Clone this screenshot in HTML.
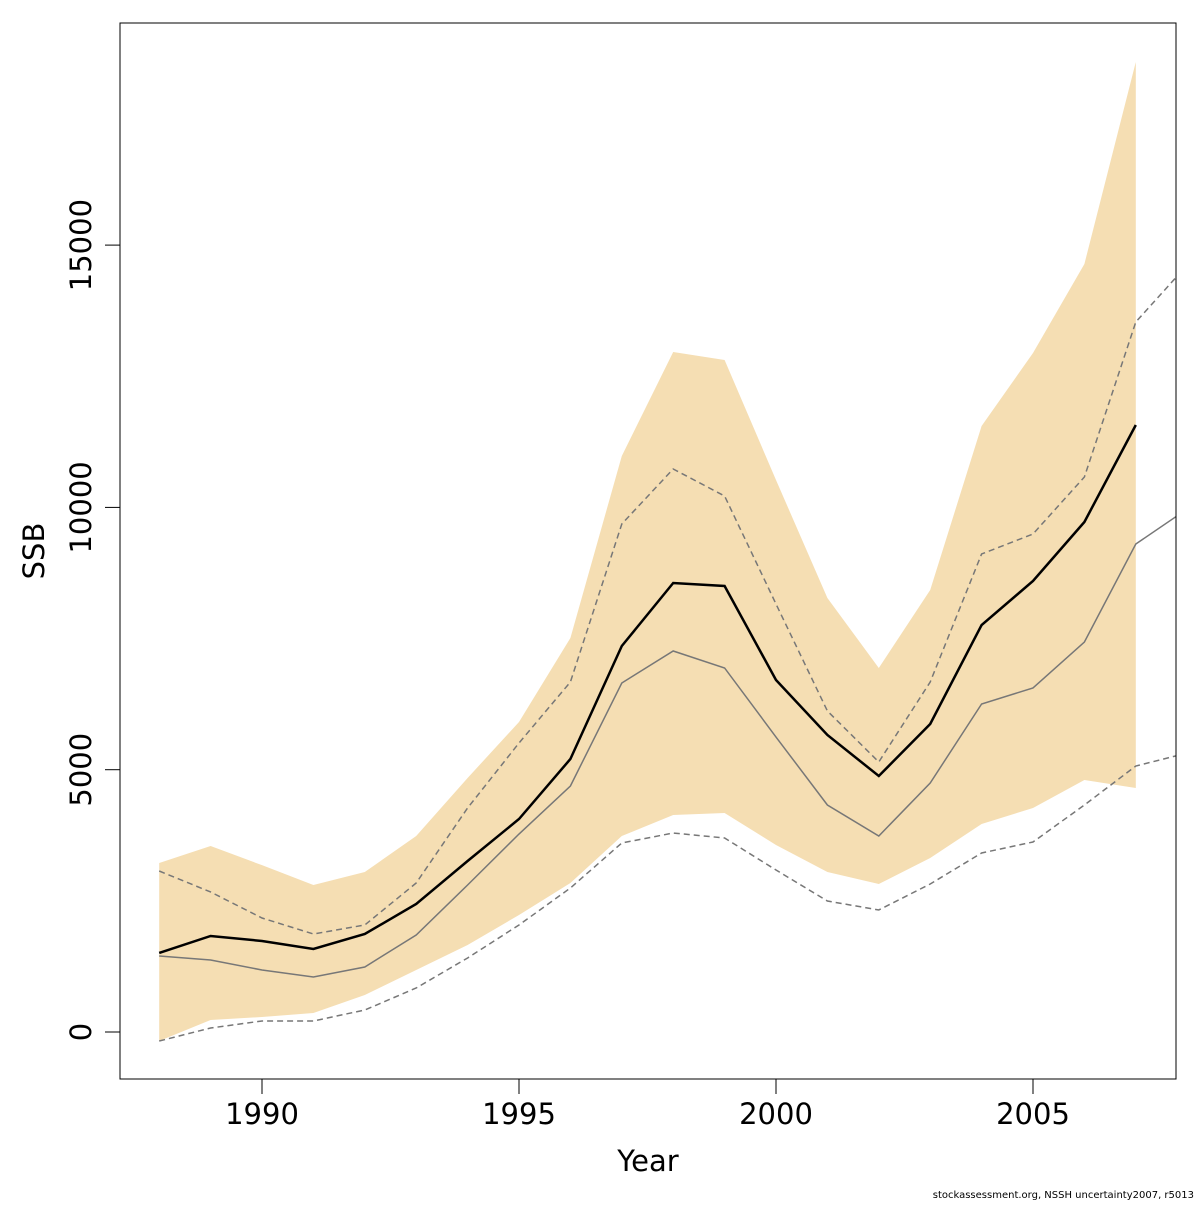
<!DOCTYPE html>
<html><head><meta charset="utf-8"><style>
html,body{margin:0;padding:0;background:#fff}
svg text{font-family:"DejaVu Sans","Liberation Sans",sans-serif}
</style></head><body>
<svg id="chart" width="1200" height="1200" xmlns="http://www.w3.org/2000/svg">
<defs><clipPath id="clip"><rect x="120" y="23" width="1056" height="1056"/></clipPath></defs>
<g id="band" clip-path="url(#clip)"></g>
<g id="lines" clip-path="url(#clip)"></g>
<rect x="120" y="23" width="1056" height="1056" fill="none" stroke="#000" stroke-width="1"/>
<g id="xaxis"></g>
<g id="yaxis"></g>
<text x="648" y="1171" font-size="29" text-anchor="middle">Year</text>
<text transform="translate(44,551) rotate(-90)" font-size="29" text-anchor="middle">SSB</text>
<text x="1194" y="1198" font-size="10" text-anchor="end">stockassessment.org, NSSH  uncertainty2007, r5013</text>
</svg>
<script>
const years = [1988,1989,1990,1991,1992,1993,1994,1995,1996,1997,1998,1999,2000,2001,2002,2003,2004,2005,2006,2007];
const bandUpper = [3221,3546,3180,2802,3050,3736,4842,5909,7510,10980,12962,12810,10522,8273,6939,8425,11551,12943,14640,18490];
const bandLower = [-172,229,286,362,705,1182,1658,2230,2840,3736,4136,4175,3565,3050,2821,3317,3965,4270,4804,4651];
const ssb = [1506,1830,1735,1582,1868,2440,3260,4060,5204,7358,8559,8502,6710,5662,4880,5871,7758,8597,9722,11571];
const years2 = [1988,1989,1990,1991,1992,1993,1994,1995,1996,1997,1998,1999,2000,2001,2002,2003,2004,2005,2006,2007,2008];
const median = [1449,1372,1182,1048,1239,1849,2802,3774,4689,6653,7263,6939,5623,4327,3736,4746,6252,6558,7434,9302,9970];
const upperQ = [3069,2669,2173,1868,2040,2840,4270,5509,6672,9684,10732,10217,8159,6119,5147,6672,9112,9493,10580,13534,14620];
const lowerQ = [-172,76,210,210,419,839,1411,2040,2745,3603,3793,3698,3088,2497,2326,2821,3412,3622,4327,5070,5318];
const xTicks = [1990,1995,2000,2005];
const yTicks = [0,5000,10000,15000];

const NS="http://www.w3.org/2000/svg";
const xs = y => 262 + (y-1990)*51.4;
const ys = v => 1032 - v*0.05246;
function mk(tag, attrs, parent){const e=document.createElementNS(NS,tag);for(const k in attrs)e.setAttribute(k,attrs[k]);parent.appendChild(e);return e;}

const band=document.getElementById('band');
let pts = years.map((y,i)=>xs(y)+','+ys(bandUpper[i]));
pts = pts.concat(years.map((y,i)=>xs(y)+','+ys(bandLower[i])).reverse());
const poly=mk('polygon',{points:pts.join(' '),fill:'#f5deb3'},band);



const lines=document.getElementById('lines');
function line(xsArr, vals, stroke, w, dash, name){
  const p=mk('polyline',{points:xsArr.map((y,i)=>xs(y)+','+ys(vals[i])).join(' '),fill:'none',stroke:stroke,'stroke-width':w},lines);
  if(dash)p.setAttribute('stroke-dasharray',dash);
  
  
}
line(years2, upperQ, '#777', 1.5, '6,4', 'upper-quantile-line');
line(years2, lowerQ, '#777', 1.5, '6,4', 'lower-quantile-line');
line(years2, median, '#777', 1.5, null, 'median-line');
line(years, ssb, '#000', 2.5, null, 'ssb-estimate-line');

const xa=document.getElementById('xaxis');
xTicks.forEach(t=>{
  const l=mk('line',{x1:xs(t),x2:xs(t),y1:1079,y2:1094,stroke:'#000'},xa);
  
  
  const tx=mk('text',{x:xs(t),y:1124,'font-size':29,'text-anchor':'middle'},xa);
  tx.textContent=t;
  
  
});
const ya=document.getElementById('yaxis');
yTicks.forEach(t=>{
  const l=mk('line',{x1:105,x2:120,y1:ys(t),y2:ys(t),stroke:'#000'},ya);
  
  
  const tx=mk('text',{'font-size':29,'text-anchor':'middle',transform:'translate(91,'+ys(t)+') rotate(-90)'},ya);
  tx.textContent=t;
  
  
});
</script>
</body></html>
